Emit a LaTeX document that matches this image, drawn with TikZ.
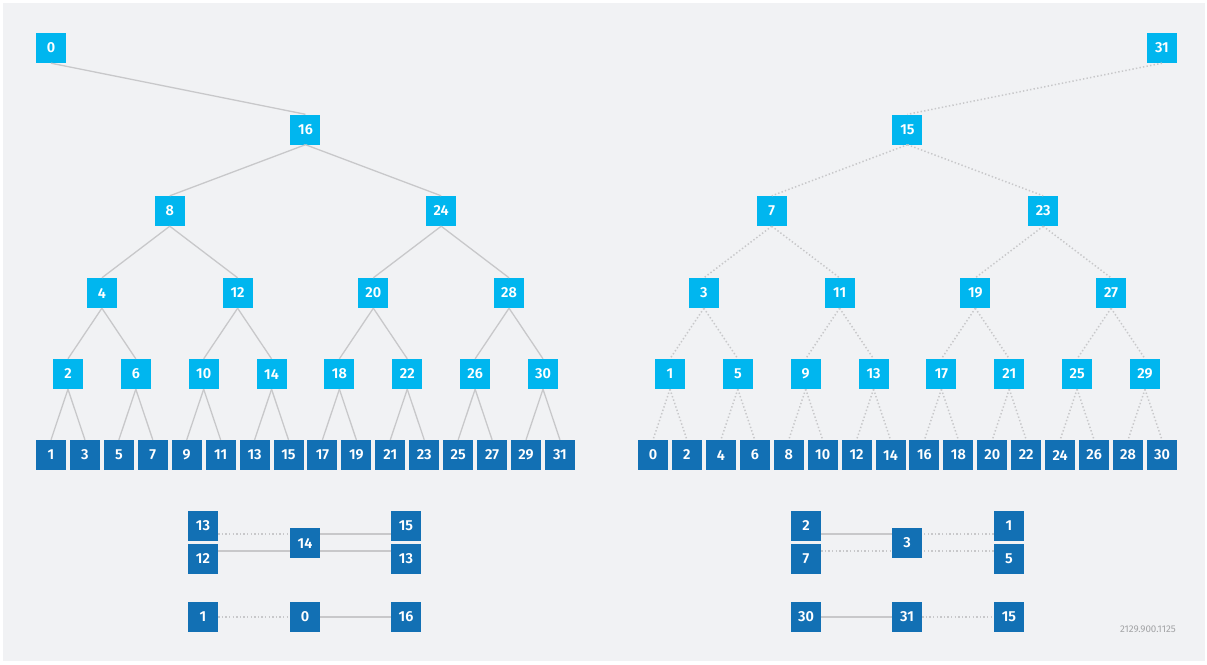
\documentclass[tikz,border=0pt]{standalone}
\usepackage{fontspec}
\setmainfont{Fira Sans}
\newfontfamily\numfont{Fira Sans SemiBold}
\definecolor{nodecyan}{HTML}{00B6EF}
\definecolor{nodeblue}{HTML}{1270B4}
\definecolor{linegray}{HTML}{C8C8CA}
\definecolor{panelbg}{HTML}{F1F2F4}
\definecolor{codegray}{HTML}{A3A4A6}
\begin{document}
\begin{tikzpicture}[x=1pt,y=-1pt,
  box/.style={minimum size=30pt, inner sep=0pt, text=white,
    font=\numfont\fontsize{14.5}{14.5}\selectfont},
  inode/.style={box, fill=nodecyan},
  leaf/.style={box, fill=nodeblue},
  link/.style={draw=linegray, line width=1.3pt},
  dlink/.style={draw=linegray, line width=1.5pt, dash pattern=on 1.4pt off 2.2pt},
]
% panel
\useasboundingbox (0,0) rectangle (1207,664);
\fill[white] (0,0) rectangle (1207,664);
\fill[panelbg] (3,3) rectangle (1205,661);

\def\sp{33.93}
% ---------- left tree (solid links) ----------
\foreach \k in {0,...,15}{
  \pgfmathsetmacro\xx{51+\k*\sp}
  \pgfmathtruncatemacro\lab{2*\k+1}
  \node[leaf] (L\lab) at (\xx,455) {\lab};
}
\foreach \j in {0,...,7}{
  \pgfmathsetmacro\xx{51+(2*\j+0.5)*\sp}
  \pgfmathtruncatemacro\lab{4*\j+2}
  \node[inode] (L\lab) at (\xx,374) {\lab};
}
\foreach \j in {0,...,3}{
  \pgfmathsetmacro\xx{51+(4*\j+1.5)*\sp}
  \pgfmathtruncatemacro\lab{8*\j+4}
  \node[inode] (L\lab) at (\xx,293) {\lab};
}
\foreach \j in {0,1}{
  \pgfmathsetmacro\xx{51+(8*\j+3.5)*\sp}
  \pgfmathtruncatemacro\lab{16*\j+8}
  \node[inode] (L\lab) at (\xx,211) {\lab};
}
\node[inode] (L16) at (51+7.5*\sp,129.5) {16};
\node[inode] (L0) at (51,48) {0};

\draw[link] (L0.south) -- (L16.north);
\foreach \p/\d in {16/8, 8/4, 24/4, 4/2, 12/2, 20/2, 28/2,
  2/1, 6/1, 10/1, 14/1, 18/1, 22/1, 26/1, 30/1}{
  \pgfmathtruncatemacro\ca{\p-\d}
  \pgfmathtruncatemacro\cb{\p+\d}
  \draw[link] (L\p.south) -- (L\ca.north);
  \draw[link] (L\p.south) -- (L\cb.north);
}

% ---------- right tree (dotted links) ----------
\foreach \k in {0,...,15}{
  \pgfmathsetmacro\xx{653+\k*\sp}
  \pgfmathtruncatemacro\lab{2*\k}
  \node[leaf] (R\lab) at (\xx,455) {\lab};
}
\foreach \j in {0,...,7}{
  \pgfmathsetmacro\xx{653+(2*\j+0.5)*\sp}
  \pgfmathtruncatemacro\lab{4*\j+1}
  \node[inode] (R\lab) at (\xx,374) {\lab};
}
\foreach \j in {0,...,3}{
  \pgfmathsetmacro\xx{653+(4*\j+1.5)*\sp}
  \pgfmathtruncatemacro\lab{8*\j+3}
  \node[inode] (R\lab) at (\xx,293) {\lab};
}
\foreach \j in {0,1}{
  \pgfmathsetmacro\xx{653+(8*\j+3.5)*\sp}
  \pgfmathtruncatemacro\lab{16*\j+7}
  \node[inode] (R\lab) at (\xx,211) {\lab};
}
\node[inode] (R15) at (653+7.5*\sp,129.5) {15};
\node[inode] (R31) at (653+15*\sp,48) {31};

\draw[dlink] (R31.south) -- (R15.north);
\foreach \p/\d in {15/8, 7/4, 23/4, 3/2, 11/2, 19/2, 27/2,
  1/1, 5/1, 9/1, 13/1, 17/1, 21/1, 25/1, 29/1}{
  \pgfmathtruncatemacro\ca{\p-\d}
  \pgfmathtruncatemacro\cb{\p+\d}
  \draw[dlink] (R\p.south) -- (R\ca.north);
  \draw[dlink] (R\p.south) -- (R\cb.north);
}

% ---------- left neighbour examples ----------
\node[leaf] (la13) at (203,526) {13};
\node[leaf] (la12) at (203,559) {12};
\node[leaf] (la14) at (305,543) {14};
\node[leaf] (la15) at (406,526) {15};
\node[leaf] (lb13) at (406,559) {13};
\draw[dlink] ([yshift=-8pt]la13.east) -- ([yshift=-8pt]la13.east -| la14.west);
\draw[link]  ([yshift=8pt]la12.east) -- ([yshift=8pt]la12.east -| la14.west);
\draw[link]  ([yshift=-8pt]la15.west) -- ([yshift=-8pt]la15.west -| la14.east);
\draw[link]  ([yshift=8pt]lb13.west) -- ([yshift=8pt]lb13.west -| la14.east);

\node[leaf] (lc1) at (203,617) {1};
\node[leaf] (lc0) at (305,617) {0};
\node[leaf] (lc16) at (406,617) {16};
\draw[dlink] (lc1) -- (lc0);
\draw[link] (lc0) -- (lc16);

% ---------- right neighbour examples ----------
\node[leaf] (ra2) at (806,526) {2};
\node[leaf] (ra7) at (806,559) {7};
\node[leaf] (ra3) at (907,543) {3};
\node[leaf] (ra1) at (1009,526) {1};
\node[leaf] (ra5) at (1009,559) {5};
\draw[link]  ([yshift=-8pt]ra2.east) -- ([yshift=-8pt]ra2.east -| ra3.west);
\draw[dlink] ([yshift=8pt]ra7.east) -- ([yshift=8pt]ra7.east -| ra3.west);
\draw[dlink] ([yshift=-8pt]ra1.west) -- ([yshift=-8pt]ra1.west -| ra3.east);
\draw[dlink] ([yshift=8pt]ra5.west) -- ([yshift=8pt]ra5.west -| ra3.east);

\node[leaf] (rc30) at (806,617) {30};
\node[leaf] (rc31) at (907,617) {31};
\node[leaf] (rc15) at (1009,617) {15};
\draw[link] (rc30) -- (rc31);
\draw[dlink] (rc31) -- (rc15);

% figure code
\node[anchor=east, inner sep=0pt, text=codegray, font=\fontsize{9.8}{10}\selectfont]
  (code) at (1176,629) {2129.900.1125};
\end{tikzpicture}
\end{document}
